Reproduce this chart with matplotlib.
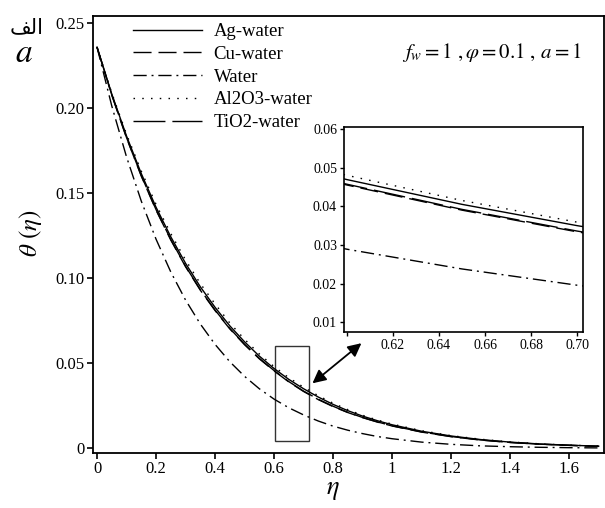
import matplotlib
matplotlib.use("Agg")
import matplotlib.pyplot as plt
from matplotlib.patches import Rectangle

plt.rcParams['font.family'] = ['Liberation Serif', 'DejaVu Serif']
plt.rcParams['mathtext.fontset'] = 'stix'

# eta grid and theta(eta)
eta = [0, 0.05, 0.1, 0.15, 0.2, 0.25, 0.3, 0.35, 0.4, 0.45, 0.5, 0.55, 0.6, 0.65,
       0.7, 0.75, 0.8, 0.85, 0.9, 0.95, 1.0, 1.1, 1.2, 1.3, 1.4, 1.5, 1.6, 1.7]
ag_water = [0.236, 0.2084, 0.1837, 0.1616, 0.1418, 0.1244, 0.1088, 0.0950, 0.0829, 0.0720,
            0.0626, 0.0542, 0.0469, 0.0405, 0.0350, 0.0301, 0.0258, 0.0221, 0.0189, 0.0162,
            0.0138, 0.0100, 0.0072, 0.0051, 0.0036, 0.0025, 0.0018, 0.0012]
cu_water = [0.236, 0.2078, 0.1826, 0.1601, 0.1401, 0.1225, 0.1068, 0.0930, 0.0810, 0.0702,
            0.0609, 0.0526, 0.0455, 0.0390, 0.0334, 0.0286, 0.0245, 0.0210, 0.0180, 0.0154,
            0.0131, 0.0095, 0.0068, 0.0048, 0.0034, 0.0024, 0.0017, 0.0011]
water = [0.236, 0.2014, 0.1714, 0.1454, 0.1230, 0.1037, 0.0872, 0.0731, 0.0611, 0.0509,
         0.0423, 0.0350, 0.0289, 0.0238, 0.0196, 0.0160, 0.0130, 0.0106, 0.0086, 0.0069,
         0.0056, 0.0036, 0.0023, 0.0014, 0.0009, 0.00055, 0.00033, 0.0002]
al2o3_water = [0.236, 0.2090, 0.1848, 0.1631, 0.1435, 0.1263, 0.1108, 0.0969, 0.0849, 0.0737,
               0.0641, 0.0555, 0.0480, 0.0415, 0.0359, 0.0309, 0.0265, 0.0227, 0.0194, 0.0166,
               0.0142, 0.0103, 0.0074, 0.0053, 0.0037, 0.0026, 0.0018, 0.0013]
tio2_water = [0.236, 0.2079, 0.1828, 0.1604, 0.1404, 0.1228, 0.1071, 0.0933, 0.0813, 0.0705,
              0.0612, 0.0529, 0.0457, 0.0392, 0.0336, 0.0288, 0.0247, 0.0211, 0.0181, 0.0155,
              0.0132, 0.0096, 0.0069, 0.0049, 0.0034, 0.0024, 0.0017, 0.0011]

labels = ['Ag-water', 'Cu-water', 'Water', 'Al2O3-water', 'TiO2-water']
series = [ag_water, cu_water, water, al2o3_water, tio2_water]
styles = ['-', (0, (13, 5)), (0, (9.5, 3.5, 1.4, 3.5)), (0, (1.1, 5.2)), (0, (23, 5))]

xticks = [0, 0.2, 0.4, 0.6, 0.8, 1, 1.2, 1.4, 1.6]
xticklabels = ['0', '0.2', '0.4', '0.6', '0.8', '1', '1.2', '1.4', '1.6']
yticks = [0, 0.05, 0.10, 0.15, 0.20, 0.25]
yticklabels = ['0', '0.05', '0.10', '0.15', '0.20', '0.25']
in_xticks = [0.6, 0.62, 0.64, 0.66, 0.68, 0.70]
in_xticklabels = ['', '0.62', '0.64', '0.66', '0.68', '0.70']
in_yticks = [0.01, 0.02, 0.03, 0.04, 0.05, 0.06]
in_yticklabels = ['0.01', '0.02', '0.03', '0.04', '0.05', '0.06']

W, H = 605, 508
fig = plt.figure(figsize=(W / 100, H / 100), dpi=100)

ax = fig.add_axes([93 / W, 1 - 453 / H, (604 - 93) / W, (453 - 16) / H])
for y, lab, ls in zip(series, labels, styles):
    ax.plot(eta, y, color='black', lw=1.0, linestyle=ls, label=lab)

ax.set_xlim(-0.0136, 1.718)
ax.set_ylim(-0.0028, 0.2543)
ax.set_xticks(xticks)
ax.set_xticklabels(xticklabels)
ax.set_yticks(yticks)
ax.set_yticklabels(yticklabels)
ax.tick_params(direction='out', length=4, width=1.2, labelsize=12, pad=2)
for s in ax.spines.values():
    s.set_linewidth(1.3)

fig.text(333 / W, 1 - 491 / H, r'$\eta$', fontsize=19, ha='center', va='center')
fig.text(30 / W, 1 - 233 / H, r'$\theta\ (\eta)$', fontsize=18, rotation=90,
         ha='center', va='center')

# zoom box and arrow to the inset
ax.add_patch(Rectangle((0.602, 0.004), 0.116, 0.056, fill=False, lw=1.0, ec='#333333'))
ax.annotate('', xy=(0.730, 0.0382), xytext=(0.896, 0.0618),
            arrowprops=dict(arrowstyle='<|-|>', color='black', lw=1.3, mutation_scale=20,
                            shrinkA=0, shrinkB=0))

leg = ax.legend(loc='upper left', bbox_to_anchor=(133 / W, 1 - 23 / H),
                bbox_transform=fig.transFigure, frameon=False, fontsize=13.5,
                handlelength=3.7, handletextpad=0.6, labelspacing=0.3,
                borderpad=0, borderaxespad=0)

fig.text(402 / W, 1 - 52 / H, r'$f_w = 1\ ,\varphi = 0.1\ ,\,a = 1$', fontsize=15,
         ha='left', va='center')

# corner labels
fig.text(27 / W, 1 - 27 / H, '\uFED2\uFEDF\uFE8D', fontsize=15, ha='center', va='center',
         family=['DejaVu Sans'])
fig.text(24 / W, 1 - 54 / H, r'$a$', fontsize=24, ha='center', va='center')

# inset
ins = fig.add_axes([344 / W, 1 - 332 / H, (583 - 344) / W, (332 - 127) / H])
for y, ls in zip(series, styles):
    ins.plot(eta, y, color='black', lw=1.0, linestyle=ls)
ins.set_xlim(0.5987, 0.7026)
ins.set_ylim(0.0075, 0.0605)
ins.set_xticks(in_xticks)
ins.set_xticklabels(in_xticklabels)
ins.set_yticks(in_yticks)
ins.set_yticklabels(in_yticklabels)
ins.tick_params(direction='out', length=3, width=1.0, labelsize=10, pad=2)
for s in ins.spines.values():
    s.set_linewidth(1.2)

fig.savefig('out.png', dpi=100)
